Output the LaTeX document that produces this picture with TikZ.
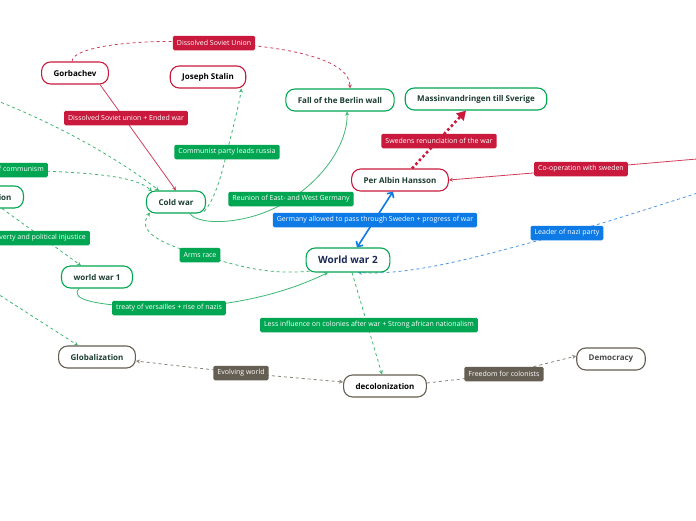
\documentclass[tikz,border=0pt]{standalone}
\usepackage{fontspec}
\setmainfont{Open Sans}
\usetikzlibrary{positioning,calc,arrows.meta,backgrounds}
\definecolor{mmgreen}{HTML}{00A651}
\definecolor{mmgreenline}{HTML}{3DB872}
\definecolor{mmred}{HTML}{C9193C}
\definecolor{mmredline}{HTML}{D0405C}
\definecolor{mmblue}{HTML}{0E7AE6}
\definecolor{mmblueline}{HTML}{4A96E8}
\definecolor{mmgrey}{HTML}{655E52}
\definecolor{mmgreyline}{HTML}{8C867C}
\definecolor{txtgreen}{HTML}{1C3D30}
\definecolor{txtnavy}{HTML}{1B2A55}
\definecolor{txtgrey}{HTML}{4A4A4A}
\newcommand*{\fsz}[1]{\fontsize{#1}{#1}\selectfont}
\tikzset{
  topic/.style={draw,rounded corners=9pt,minimum height=22pt,inner xsep=12pt,
                inner ysep=0pt,line width=1.1pt,fill=white,font=\bfseries\fsz{8}},
  tag/.style={rounded corners=1.5pt,text=white,inner xsep=4pt,inner ysep=0pt,
              minimum height=14.5pt,font=\fsz{7}},
  link/.style={line width=0.8pt,-{Stealth[length=4pt,width=4pt]}},
}

\begin{document}
\begin{tikzpicture}[x=1pt,y=-1pt]
\useasboundingbox (0,0) rectangle (696,520);
% Topics
\node[topic,draw=mmred,text=black] (gorb) at (75,73) {Gorbachev};
\node[topic,draw=mmred,text=black] (stalin) at (208,77) {Joseph Stalin};
\node[topic,draw=mmgreen,text=txtgreen] (berlin) at (340,100) {Fall of the Berlin wall};
\node[topic,draw=mmgreen,text=txtgreen] (massin) at (476,99) {Massinvandringen till Sverige};
\node[topic,draw=mmred,text=txtgreen] (pah) at (400,180) {Per Albin Hansson};
\node[topic,draw=mmgreen,text=txtgreen] (cold) at (176,202) {Cold war};
\node[topic,draw=mmgreen,text=txtgreen,anchor=east] (revo) at (24,197) {Russian Revolution};
\node[topic,draw=mmgreen,text=txtnavy,minimum height=24pt,font=\bfseries\fsz{10}] (ww2) at (348,260) {World war 2};
\node[topic,draw=mmgreen,text=txtgreen] (ww1) at (97,277) {world war 1};
\node[topic,draw=mmgrey,text=txtgreen] (glob) at (97,357) {Globalization};
\node[topic,draw=mmgrey,text=black] (decol) at (385,386) {decolonization};
\node[topic,draw=mmgrey,text=txtgrey] (demo) at (611,359) {Democracy};
% Labels of the links
\node[tag,fill=mmred] (dsu) at (214,43) {Dissolved Soviet Union};
\node[tag,fill=mmred] (ended) at (126,118) {Dissolved Soviet union + Ended war};
\node[tag,fill=mmgreen] (party) at (227,152) {Communist party leads russia};
\node[tag,fill=mmgreen,anchor=east] (commu) at (48,170) {Spread of communism};
\node[tag,fill=mmgreen] (reunion) at (291,199) {Reunion of East- and West Germany};
\node[tag,fill=mmblue] (pass) at (375,220) {Germany allowed to pass through Sweden + progress of war};
\node[tag,fill=mmred] (renun) at (439,141) {Swedens renunciation of the war};
\node[tag,fill=mmred] (coop) at (581,169) {Co-operation with sweden};
\node[tag,fill=mmblue] (nazi) at (567,233) {Leader of nazi party};
\node[tag,fill=mmgreen,anchor=east] (poverty) at (90,238) {Poverty and political injustice};
\node[tag,fill=mmgreen] (arms) at (200,255) {Arms race};
\node[tag,fill=mmgreen] (versa) at (169,308) {treaty of versailles + rise of nazis};
\node[tag,fill=mmgreen] (colon) at (369,325) {Less influence on colonies after war + Strong african nationalism};
\node[tag,fill=mmgrey] (evolv) at (241,373) {Evolving world};
\node[tag,fill=mmgrey] (freed) at (504,374) {Freedom for colonists};
% Loose ends outside the page
\coordinate (westa) at (-60,160);
\coordinate (westb) at (-10,98);
\coordinate (westc) at (-10,289);
\coordinate (easta) at (720,157);
\coordinate (eastb) at (720,186);
% Links, under the topics
\begin{scope}[on background layer]
\fill[white] (0,0) rectangle (696,520);
\draw[link,mmredline,dashed] ($(gorb.north)+(-3,0)$) .. controls (72,45) and (150,38) .. (dsu.center)
  .. controls (290,46) and (350,60) .. ($(berlin.north)+(10,0)$);
\draw[link,mmredline] ($(gorb.south)+(25,0)$) -- (cold.north);
\draw[link,mmgreenline,dashed] ($(cold.south east)+(-2,-2)$) .. controls (216,198) and (222,172) .. (party.center)
  .. controls (233,128) and (240,100) .. ($(stalin.south east)+(-5,0)$);
\draw[link,mmgreenline] ($(cold.south)+(14,0)$) .. controls (198,226) and (250,226) .. (reunion.center)
  .. controls (332,172) and (348,136) .. ($(berlin.south)+(7,0)$);
\draw[link,mmgreenline,dashed] (westa) -- (commu.center) .. controls (105,172) and (138,178) .. ($(cold.north west)+(6,1)$);
\draw[link,mmgreenline,dashed] (westb) .. controls (60,125) and (120,160) .. ($(cold.north west)+(13,0)$);
\draw[link,mmgreenline,dashed] ($(ww2.south west)+(10,-2)$) .. controls (268,276) and (240,266) .. (arms.center)
  .. controls (162,244) and (136,232) .. ($(cold.south west)+(4,-1)$);
\draw[link,mmgreenline] ($(ww1.south)+(-18,0)$) .. controls (70,299) and (90,306) .. (versa.center)
  .. controls (250,306) and (300,286) .. ($(ww2.south)+(-20,0)$);
\draw[link,mmgreenline,dashed] ($(revo.south east)+(-22,0)$) -- ($(ww1.north west)+(20,0)$);
\draw[link,mmgreenline,dashed] (westc) -- ($(glob.north west)+(20,0)$);
\draw[mmblue,line width=1.6pt,{Straight Barb[length=4pt,width=8pt]}-{Straight Barb[length=4pt,width=8pt]}]
  ($(pah.south)+(-7,0)$) -- ($(ww2.north)+(9,0)$);
\draw[mmred,line width=2.6pt,dash pattern=on 2.6pt off 2.6pt,-{Triangle[length=9pt,width=10pt]}]
  ($(pah.north)+(12,0)$) -- ($(massin.south)+(-10,0)$);
\draw[link,mmredline] (easta) -- (coop.center) -- (pah.east);
\draw[link,mmblueline,dashed] (eastb) .. controls (650,208) and (602,224) .. (nazi.center)
  .. controls (500,250) and (420,276) .. ($(ww2.south)+(10,0)$);
\draw[link,mmgreenline,dashed] ($(ww2.south)+(4,0)$) -- ($(decol.north)+(-3,0)$);
\draw[link,mmgreyline,dashed,{Stealth[length=4pt,width=4pt]}-{Stealth[length=4pt,width=4pt]}]
  ($(decol.west)+(0,-4)$) -- (evolv.center) -- ($(glob.east)+(0,4)$);
\draw[link,mmgreyline,dashed] ($(decol.east)+(0,-3)$) -- (freed.center) -- ($(demo.west)+(0,-3)$);
\end{scope}
\end{tikzpicture}
\end{document}
